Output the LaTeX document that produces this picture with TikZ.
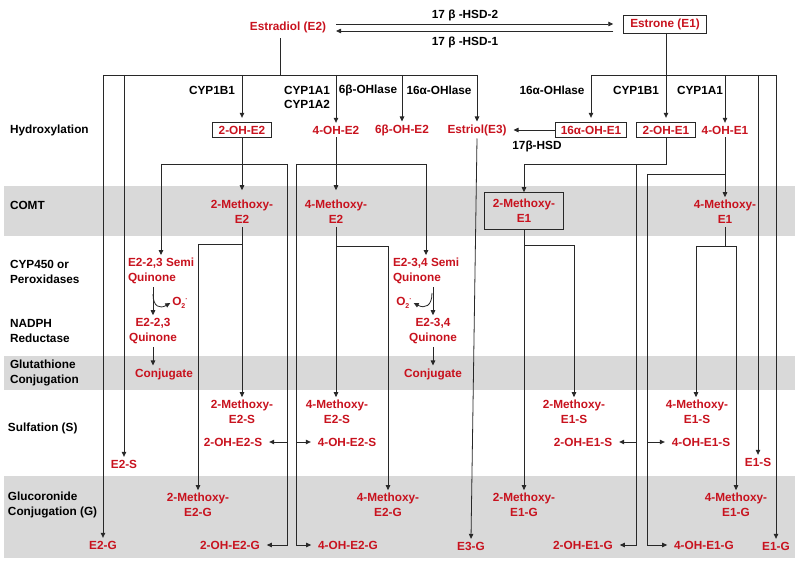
\documentclass[tikz,border=0pt]{standalone}
\usepackage{fontspec}
\setmainfont{Liberation Sans}
\usetikzlibrary{arrows.meta,calc}
\definecolor{txtred}{RGB}{200,18,30}
\definecolor{band}{RGB}{217,217,217}
\definecolor{ink}{RGB}{40,40,40}
\newcommand{\oxy}{O\raisebox{-2.5pt}{\fontsize{7}{7}\selectfont 2}\raisebox{4pt}{\fontsize{7}{7}\selectfont ·}}
\begin{document}
\begin{tikzpicture}[x=1pt,y=-1pt,
  every node/.style={font=\fontsize{11.8}{15}\selectfont\bfseries, inner sep=1pt, outer xsep=6pt, outer ysep=2pt},
  lab/.style={text=black, align=left, anchor=west, outer sep=0pt},
  enz/.style={text=black, align=center},
  met/.style={text=txtred, align=center},
  mbox/.style={met, draw=ink, line width=0.8pt, inner xsep=6pt, inner ysep=3pt, outer sep=0pt},
  ln/.style={draw=ink, line width=0.8pt},
  arr/.style={ln, -{Triangle[length=5pt,width=4.5pt]}},
]
\useasboundingbox (0,0) rectangle (800,569);
% bands
\fill[band] (4,186) rectangle (795,236);
\fill[band] (4,356) rectangle (795,390);
\fill[band] (4,476) rectangle (795,558);
% row labels
\node[lab] (rHyd) at (9,130) {Hydroxylation};
\node[lab] (rComt) at (9,205) {COMT};
\node[lab] (rCyp) at (9,272) {CYP450 or\\Peroxidases};
\node[lab] (rNad) at (9,331) {NADPH\\Reductase};
\node[lab] (rGlu) at (9,373) {Glutathione\\Conjugation};
\node[lab] (rSul) at (7,428) {Sulfation (S)};
\node[lab] (rGlc) at (7,505) {Glucoronide\\Conjugation (G)};
% top
\node[met] (e2) at (288,27) {Estradiol (E2)};
\node[mbox, inner xsep=7pt, inner ysep=3.5pt] (e1) at (665,24) {Estrone (E1)};
\draw[arr] ($(e2.east)+(3,-3)$) -- ($(e1.west)+(-10,0)$);
\draw[arr] ($(e1.west)+(-10,7)$) -- ($(e2.east)+(3,4)$);
\node[enz] (hsd2) at (465,15) {17 β -HSD-2};
\node[enz] (hsd1) at (465,42) {17 β -HSD-1};
% E2 trunk
\coordinate (e2t) at (280,75);
\coordinate (e2L) at (103,75);
\coordinate (e2R) at (477,75);
\draw[ln] ($(e2.south -| e2t)+(0,3)$) -- (e2t);
\draw[ln] (e2L) -- (e2R);
% E1 trunk
\coordinate (e1L) at (591,75);
\coordinate (e1R) at (776,75);
\draw[ln] (e1L) -- (e1R);
% hydroxylation row
\node[mbox] (oh2e2) at (242,130) {2-OH-E2};
\node[met] (oh4e2) at (336,130) {4-OH-E2};
\node[met] (oh6e2) at (402,130) {6β-OH-E2};
\node[met] (e3) at (477,130) {Estriol(E3)};
\node[mbox, inner xsep=5pt] (oh16e1) at (591,130) {16α-OH-E1};
\node[mbox, inner xsep=6.5pt] (oh2e1) at (666,130) {2-OH-E1};
\node[met] (oh4e1) at (725,130) {4-OH-E1};
% enzyme labels
\node[enz] (c1b1a) at (212,90) {CYP1B1};
\node[enz] (c1a1a) at (307,97) {CYP1A1\\[-1pt]CYP1A2};
\node[enz] (b6ol) at (368,90) {6β-OHlase};
\node[enz] (a16ol) at (439,90) {16α-OHlase};
\node[enz] (a16olb) at (552,90) {16α-OHlase};
\node[enz] (c1b1b) at (636,90) {CYP1B1};
\node[enz] (c1a1b) at (700,90) {CYP1A1};
\node[enz] (hsd17) at (537,146) {17β-HSD};
% conjugate end products of E2/E1/E3
\node[met] (e2s) at (124,464) {E2-S};
\node[met] (e2g) at (103,545) {E2-G};
\node[met] (e3g) at (471,546) {E3-G};
\node[met] (e1s) at (758,462) {E1-S};
\node[met] (e1g) at (776,546) {E1-G};
% drops from trunks
\draw[arr, shorten >=5pt] (e2R -| oh2e2) -- (oh2e2.north);
\draw[arr] (e2R -| oh4e2) -- (oh4e2.north);
\draw[arr] (e2R -| oh6e2) -- (oh6e2.north);
\draw[arr] (e2R) -- (e3.north);
\draw[arr] (e2L) -- (e2g.north);
\draw[arr] (e2L -| e2s) -- (e2s.north);
\draw[arr, shorten >=5pt] (e1.south -| oh2e1) -- (oh2e1.north);
\draw[arr, shorten >=5pt] (e1L) -- (oh16e1.north);
\draw[arr] (e1L -| oh4e1) -- (oh4e1.north);
\draw[arr] (e1L -| e1s) -- (e1s.north);
\draw[arr] (e1R) -- (e1g.north);
\draw[arr] (oh16e1.west) -- (e3.east);
\draw[arr] (e3.south) -- (e3g.north);
% ---- 2-OH-E2 branch
\node[met] (me2) at (242,212) {2-Methoxy-\\E2};
\draw[arr, shorten >=7pt] (oh2e2.south) -- (me2.north);
\coordinate (j2L) at (161,164);
\coordinate (j2R) at (287,164);
\draw[ln] (j2L) -- (j2R);
\node[met, anchor=west, align=left, outer xsep=0pt] (sq23) at (127,271) {E2-2,3 Semi\\Quinone};
\draw[arr] (j2L) -- (j2L |- sq23.north);
\node[met] (q23) at (153,331) {E2-2,3\\Quinone};
\draw[arr] (q23.north |- sq23.south) -- (q23.north);
\coordinate (c23) at (153,294);
\node[met, outer xsep=1pt] (o2a) at (180,303) {\oxy};
\draw[arr] (c23) .. controls (153,307) and (160,309) .. (o2a.west);
\node[met] (conj1) at (164,374) {Conjugate};
\draw[arr] (q23.south) -- (q23.south |- conj1.north);
\node[met] (oh2e2s) at (233,442) {2-OH-E2-S};
\node[met] (oh2e2g) at (230,545) {2-OH-E2-G};
\draw[arr] (j2R) |- (oh2e2g.east);
\draw[arr] (j2R |- oh2e2s) -- (oh2e2s.east);
\node[met] (me2s) at (242,412) {2-Methoxy-\\E2-S};
\node[met] (me2g) at (198,505) {2-Methoxy-\\E2-G};
\draw[arr] (me2.south) -- (me2s.north);
\coordinate (jm2) at (242,244);
\draw[arr] (jm2) -| (me2g.north);
% ---- 4-OH-E2 branch
\node[met] (me4) at (336,212) {4-Methoxy-\\E2};
\draw[arr, shorten >=7pt] (oh4e2.south) -- (me4.north);
\coordinate (j4L) at (296,164);
\coordinate (j4R) at (426,164);
\draw[ln] (j4L) -- (j4R);
\node[met, anchor=west, align=left, outer xsep=0pt] (sq34) at (392,271) {E2-3,4 Semi\\Quinone};
\draw[arr] (j4R) -- (j4R |- sq34.north);
\node[met] (q34) at (433,331) {E2-3,4\\Quinone};
\draw[arr] (q34.north |- sq34.south) -- (q34.north);
\coordinate (c34) at (432,293);
\node[met, outer xsep=1pt] (o2b) at (404,303) {\oxy};
\draw[arr] (c34) .. controls (432,306) and (425,309) .. (o2b.east);
\node[met] (conj2) at (433,374) {Conjugate};
\draw[arr] (q34.south) -- (conj2.north);
\node[met] (oh4e2s) at (347,442) {4-OH-E2-S};
\node[met] (oh4e2g) at (348,545) {4-OH-E2-G};
\draw[arr] (j4L) |- (oh4e2g.west);
\draw[arr] (j4L |- oh4e2s) -- (oh4e2s.west);
\node[met] (me4s) at (337,412) {4-Methoxy-\\E2-S};
\node[met] (me4g) at (388,505) {4-Methoxy-\\E2-G};
\draw[arr] (me4.south) -- (me4.south |- me4s.north);
\coordinate (jm4) at (336,246);
\draw[arr] (jm4) -| (me4g.north);
% ---- 2-OH-E1 branch
\node[mbox, fill=band, inner xsep=8pt, inner ysep=7pt] (me1) at (524,211) {2-Methoxy-\\E1};
\coordinate (je1) at (666,164);
\draw[arr] (oh2e1.south) -- (je1) -| (me1.north);
\coordinate (je1b) at (636,164);
\node[met] (oh2e1s) at (583,442) {2-OH-E1-S};
\node[met] (oh2e1g) at (583,545) {2-OH-E1-G};
\draw[arr] (je1b) |- (oh2e1g.east);
\draw[arr] (je1b |- oh2e1s) -- (oh2e1s.east);
\node[met] (me1s) at (574,412) {2-Methoxy-\\E1-S};
\node[met] (me1g) at (524,505) {2-Methoxy-\\E1-G};
\draw[arr] (me1.south) -- (me1g.north);
\coordinate (jm1) at (524,245);
\draw[arr] (jm1) -| (me1s.north);
% ---- 4-OH-E1 branch
\node[met] (me4e1) at (725,212) {4-Methoxy-\\E1};
\draw[arr] (oh4e1.south) -- (me4e1.north);
\coordinate (je4) at (725,174);
\coordinate (je4L) at (647,174);
\draw[ln] (je4) -- (je4L);
\node[met] (oh4e1s) at (701,442) {4-OH-E1-S};
\node[met] (oh4e1g) at (704,545) {4-OH-E1-G};
\draw[arr] (je4L) |- (oh4e1g.west);
\draw[arr] (je4L |- oh4e1s) -- (oh4e1s.west);
\coordinate (jm4e1) at (725,246);
\coordinate (jm4e1L) at (696,246);
\coordinate (jm4e1R) at (736,246);
\draw[ln] (me4e1.south) -- (jm4e1);
\draw[ln] (jm4e1L) -- (jm4e1R);
\node[met] (me4e1s) at (697,412) {4-Methoxy-\\E1-S};
\node[met] (me4e1g) at (736,505) {4-Methoxy-\\E1-G};
\draw[arr] (jm4e1L) -- (jm4e1L |- me4e1s.north);
\draw[arr] (jm4e1R) -- (me4e1g.north);
\end{tikzpicture}
\end{document}
